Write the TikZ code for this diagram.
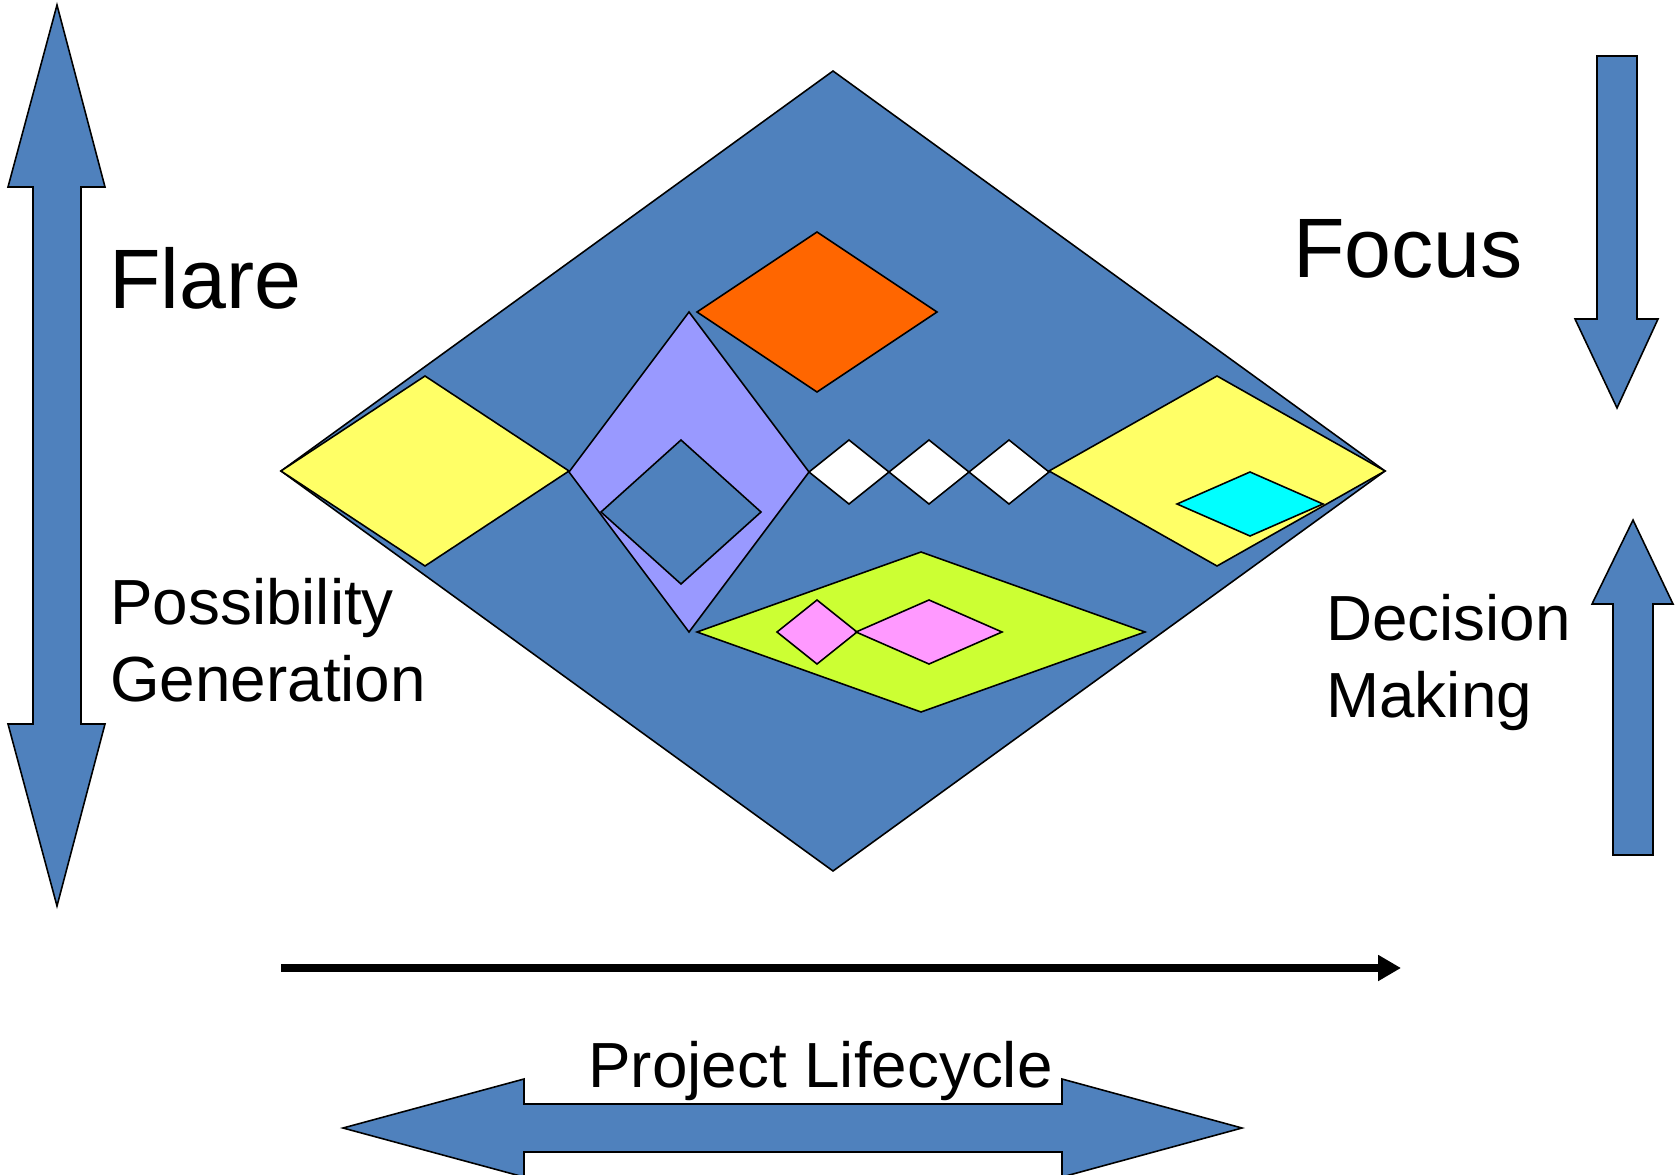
\documentclass[tikz,border=0pt]{standalone}
\usepackage{fontspec}
\setmainfont{Liberation Sans}
\definecolor{slate}{RGB}{79, 129, 189}
\definecolor{lemon}{RGB}{255, 255, 102}
\definecolor{ember}{RGB}{255, 102, 0}
\definecolor{lilac}{RGB}{153, 153, 255}
\definecolor{sprout}{RGB}{204, 255, 51}
\definecolor{orchid}{RGB}{255, 153, 255}
\definecolor{aqua}{RGB}{0, 255, 255}
\usepackage{tikz}
\usetikzlibrary{arrows.meta}
\newcommand{\gem}[5]{\filldraw[outline, fill=#5] (#1-#3,#2) -- (#1,#2-#4) -- (#1+#3,#2) -- (#1,#2+#4) -- cycle;}

\tikzset{
    outline/.style={draw=black, line width=0.9pt, line join=miter},
    blockarrow/.style={outline, fill=slate},
    bigword/.style={font=\fontsize{48}{57}\selectfont, inner sep=0pt, anchor=base west},
    smallword/.style={font=\fontsize{36.3}{43.65}\selectfont, inner sep=0pt, anchor=base west, align=left}
}

\begin{document}
\begin{tikzpicture}[x=0.02cm, y=-0.02cm]
                \useasboundingbox (0,0) rectangle (1679,1175);
                \clip (0,0) rectangle (1679,1175);

                \gem{833}{471}{552}{400}{slate}
                \gem{425}{471}{144}{95}{lemon}
                \gem{1217}{471}{168}{95}{lemon}
                \gem{1250}{504}{73}{32}{aqua}
                \gem{817}{312}{120}{80}{ember}
                \gem{689}{472}{120}{160}{lilac}
                \gem{681}{512}{80}{72}{slate}
                \foreach \cx in {849, 929, 1009} {
                    \gem{\cx}{472}{40}{32}{white}
                }
                \gem{921}{632}{224}{80}{sprout}
                \gem{817}{632}{40}{32}{orchid}
                \gem{929}{632}{73}{32}{orchid}

                \filldraw[blockarrow] (57,5) -- (105,187) -- (81,187) -- (81,724) -- (105,724) -- (57,906)
                    -- (8,724) -- (33,724) -- (33,187) -- (8,187) -- cycle;
                \filldraw[blockarrow] (1597,56) -- (1637,56) -- (1637,319) -- (1658,319) -- (1617,408)
                    -- (1575,319) -- (1597,319) -- cycle;
                \filldraw[blockarrow] (1633,520) -- (1673,604) -- (1653,604) -- (1653,855) -- (1613,855)
                    -- (1613,604) -- (1592,604) -- cycle;
                \filldraw[blockarrow] (343,1128) -- (524,1079) -- (524,1104) -- (1062,1104) -- (1062,1079)
                    -- (1242,1128) -- (1062,1177) -- (1062,1152) -- (524,1152) -- (524,1177) -- cycle;

                \coordinate (lcStart) at (281,968);
                \coordinate (lcEnd) at (1401,968);
                \draw[line width=4pt, -{Triangle[length=13pt, width=14pt]}] (lcStart) -- (lcEnd);

                \node[bigword] (flare) at (109,309) {Flare};
                \node[bigword] (focus) at (1293,278) {Focus};
                \node[smallword] (possgen) at (110,701) {Possibility\\Generation};
                \node[smallword] (decmak) at (1326,717) {Decision\\Making};
                \node[smallword] (lifecycle) at (588,1087) {Project Lifecycle};
            \end{tikzpicture}
\end{document}
